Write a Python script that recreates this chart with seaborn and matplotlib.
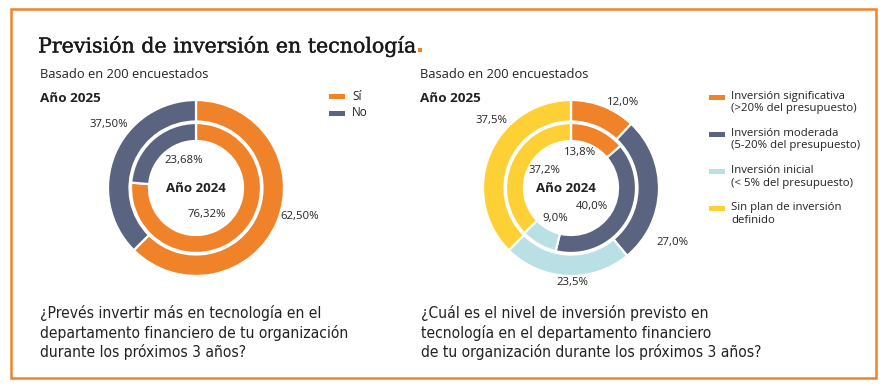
import matplotlib
matplotlib.use("Agg")
import matplotlib.pyplot as plt
import matplotlib.patheffects as pe
import seaborn as sns
from matplotlib.patches import Rectangle

# ---------------- data ----------------
left_categories = ["Sí", "No"]
left_2025 = [62.50, 37.50]
left_2024 = [76.32, 23.68]

right_categories = [
    "Inversión significativa\n(>20% del presupuesto)",
    "Inversión moderada\n(5-20% del presupuesto)",
    "Inversión inicial\n(< 5% del presupuesto)",
    "Sin plan de inversión\ndefinido",
]
right_2025 = [12.0, 27.0, 23.5, 37.5]
right_2024 = [13.8, 40.0, 9.0, 37.2]

title = "Previsión de inversión en tecnología"
subtitle = "Basado en 200 encuestados"
year_outer = "Año 2025"
year_inner = "Año 2024"
left_question = ("¿Prevés invertir más en tecnología en el\n"
                 "departamento financiero de tu organización\n"
                 "durante los próximos 3 años?")
right_question = ("¿Cuál es el nivel de inversión previsto en\n"
                  "tecnología en el departamento financiero\n"
                  "de tu organización durante los próximos 3 años?")

# ---------------- style ----------------
sns.set_theme(style="white")
plt.rcParams["font.family"] = ["Open Sans", "DejaVu Sans"]
ORANGE = "#F08329"
SLATE = "#5A6480"
LIGHTBLUE = "#B9E0E5"
YELLOW = "#FDD135"
TEXT = "#222222"
left_colors = sns.color_palette([ORANGE, SLATE])
right_colors = sns.color_palette([ORANGE, SLATE, LIGHTBLUE, YELLOW])

W, H = 886, 386
fig = plt.figure(figsize=(W / 100, H / 100), dpi=100)
ax = fig.add_axes([0, 0, 1, 1])


def Y(y):
    return H - y


R_OUT, W_OUT = 88, 21.5
R_IN, W_IN = 65, 18


def donut(cx, cy, outer, inner, colors):
    ax.pie(outer, colors=colors, radius=R_OUT, center=(cx, Y(cy)),
           startangle=90, counterclock=False, frame=True,
           wedgeprops=dict(width=W_OUT, edgecolor="white", linewidth=1.6))
    ax.pie(inner, colors=colors, radius=R_IN, center=(cx, Y(cy)),
           startangle=90, counterclock=False, frame=True,
           wedgeprops=dict(width=W_IN, edgecolor="white", linewidth=1.6))


# left donut
LCX, LCY = 196, 188
donut(LCX, LCY, left_2025, left_2024, left_colors)
# right donut
RCX, RCY = 571, 188
donut(RCX, RCY, right_2025, right_2024, right_colors)

ax.set_xlim(0, W)
ax.set_ylim(0, H)
ax.set_aspect("auto")
ax.axis("off")

# value labels (offsets from each donut's centre, pixels)
left_out_off = [(104, 29), (-87, -64)]
left_in_off = [(11, 27), (-12, -27)]
right_out_off = [(52, -86), (102, 54), (1, 94), (-79, -67)]
right_in_off = [(9, -35), (21, 19), (-16, 30), (-26, -18)]


def fmt(v, d):
    return f"{v:.{d}f}%".replace(".", ",")


lab_kw = dict(ha="center", va="center", fontsize=8.2, color=TEXT)
for v, (dx, dy) in zip(left_2025, left_out_off):
    ax.text(LCX + dx, Y(LCY + dy), fmt(v, 2), **lab_kw)
for v, (dx, dy) in zip(left_2024, left_in_off):
    ax.text(LCX + dx, Y(LCY + dy), fmt(v, 2), **lab_kw)
for v, (dx, dy) in zip(right_2025, right_out_off):
    ax.text(RCX + dx, Y(RCY + dy), fmt(v, 1), **lab_kw)
for v, (dx, dy) in zip(right_2024, right_in_off):
    ax.text(RCX + dx, Y(RCY + dy), fmt(v, 1), **lab_kw)

ax.text(LCX, Y(LCY + 1), year_inner, ha="center", va="center",
        fontsize=9.5, fontweight="bold", color=TEXT)
ax.text(RCX - 5, Y(RCY), year_inner, ha="center", va="center",
        fontsize=9.5, fontweight="bold", color=TEXT)

# headers
for x0 in (40, 420):
    ax.text(x0, Y(75), subtitle, ha="left", va="center", fontsize=9.3, color=TEXT)
    ax.text(x0, Y(98), year_outer, ha="left", va="center", fontsize=9.7,
            fontweight="bold", color=TEXT)

# title with orange full stop
t = ax.text(38, Y(46), title, ha="left", va="center", fontsize=14.8,
            family=["DejaVu Serif"], color="#1a1a1a",
            path_effects=[pe.withStroke(linewidth=0.3, foreground="#1a1a1a")])
fig.canvas.draw()
bb = t.get_window_extent(renderer=fig.canvas.get_renderer())
ax.add_patch(Rectangle((bb.x1 + 2, Y(52)), 4.5, 4.5, color=ORANGE, lw=0))

# legends
for i, (lab, c) in enumerate(zip(left_categories, left_colors)):
    y = 96 + i * 17
    ax.add_patch(Rectangle((329, Y(y) - 2.5), 16, 5, color=c, lw=0))
    ax.text(352, Y(y), lab, ha="left", va="center", fontsize=8.5, color=TEXT)

for i, (lab, c) in enumerate(zip(right_categories, right_colors)):
    y = 97 + i * 37.3
    ax.add_patch(Rectangle((709, Y(y) - 2.5), 16, 5, color=c, lw=0))
    ax.text(731, Y(y) + 6.5, lab, ha="left", va="top", fontsize=8.2,
            color=TEXT, linespacing=1.2)

# questions
q_kw = dict(ha="left", va="top", fontsize=11.2, color=TEXT, linespacing=1.28,
            family=["DejaVu Sans"], fontstretch="condensed")
ax.text(40, Y(305), left_question, **q_kw)
ax.text(421, Y(305), right_question, **q_kw)

# frame
ax.add_patch(Rectangle((11, Y(378)), 865, 369, fill=False, edgecolor=ORANGE,
                       lw=1.8))

fig.savefig("out.png", dpi=100)
